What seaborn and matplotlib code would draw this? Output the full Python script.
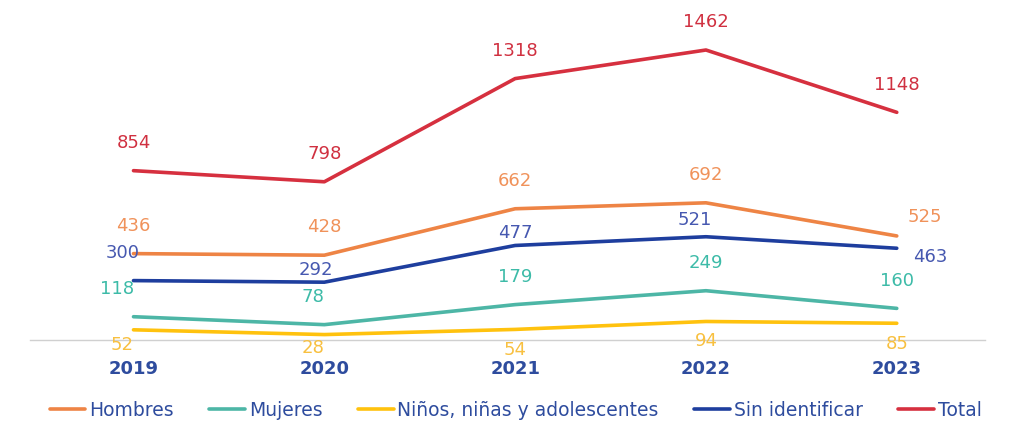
import seaborn as sns
import matplotlib.pyplot as plt
import pandas as pd

sns.set_theme(style="white")
plt.rcParams['font.family'] = ['DejaVu Sans']

# =====================
# DATA
# =====================
years = ['2019', '2020', '2021', '2022', '2023']
hombres = [436, 428, 662, 692, 525]
mujeres = [118, 78, 179, 249, 160]
ninos = [52, 28, 54, 94, 85]
sin_ident = [300, 292, 477, 521, 463]
total = [854, 798, 1318, 1462, 1148]

series_names = ['Hombres', 'Mujeres', 'Niños, niñas y adolescentes', 'Sin identificar', 'Total']
series_vals = [hombres, mujeres, ninos, sin_ident, total]

line_colors = {
    'Hombres': '#EE8445',
    'Mujeres': '#4DB6A6',
    'Niños, niñas y adolescentes': '#FFC20E',
    'Sin identificar': '#1E3E9E',
    'Total': '#D6303F',
}
label_colors = {
    'Hombres': '#F0925A',
    'Mujeres': '#3DBBA8',
    'Niños, niñas y adolescentes': '#F8C040',
    'Sin identificar': '#4658B0',
    'Total': '#D03040',
}
# label offsets (points) per series / point
offsets = {
    'Total': [(0, 20)] * 5,
    'Hombres': [(0, 20), (0, 20), (0, 20), (0, 20), (20, 14)],
    'Sin identificar': [(-8, 20), (-6, 9), (0, 9), (-8, 12), (24, -6)],
    'Mujeres': [(-12, 20), (-8, 20), (0, 20), (0, 20), (0, 20)],
    'Niños, niñas y adolescentes': [(-8, -11), (-8, -10), (0, -15), (0, -14), (0, -15)],
}

df = pd.DataFrame({
    'Año': years * len(series_names),
    'Valor': sum(series_vals, []),
    'Serie': [n for n in series_names for _ in years],
})

fig = plt.figure(figsize=(10.15, 4.22), dpi=100)
ax = fig.add_axes([0.03, 0.194, 0.94, 0.806])

sns.lineplot(data=df, x='Año', y='Valor', hue='Serie', hue_order=series_names,
             palette=line_colors, linewidth=2.6, ax=ax, sort=False)

for name, vals in zip(series_names, series_vals):
    for i, v in enumerate(vals):
        ax.annotate(str(v), xy=(i, v), xytext=offsets[name][i], textcoords='offset points',
                    ha='center', va='center', fontsize=13, color=label_colors[name])

ax.set_xlim(-0.54, 4.46)
ax.set_ylim(0, 1714)
ax.set_xlabel('')
ax.set_ylabel('')
ax.set_yticks([])
for s in ['top', 'right', 'left']:
    ax.spines[s].set_visible(False)
ax.spines['bottom'].set_color('#D0D0D0')
ax.spines['bottom'].set_linewidth(1.0)
ax.tick_params(axis='x', length=0, pad=14, labelsize=13, labelcolor='#2E4C9E')
for t in ax.get_xticklabels():
    t.set_fontweight('bold')

handles, labels = ax.get_legend_handles_labels()
ax.get_legend().remove()
leg = fig.legend(handles, labels, loc='center', bbox_to_anchor=(0.508, 12 / 422), ncol=5,
                 frameon=False, fontsize=13.5, handlelength=1.9, handletextpad=0.2,
                 columnspacing=1.9, borderaxespad=0, borderpad=0)
for t in leg.get_texts():
    t.set_color('#2E4C9E')

fig.savefig('out.png', dpi=100)
